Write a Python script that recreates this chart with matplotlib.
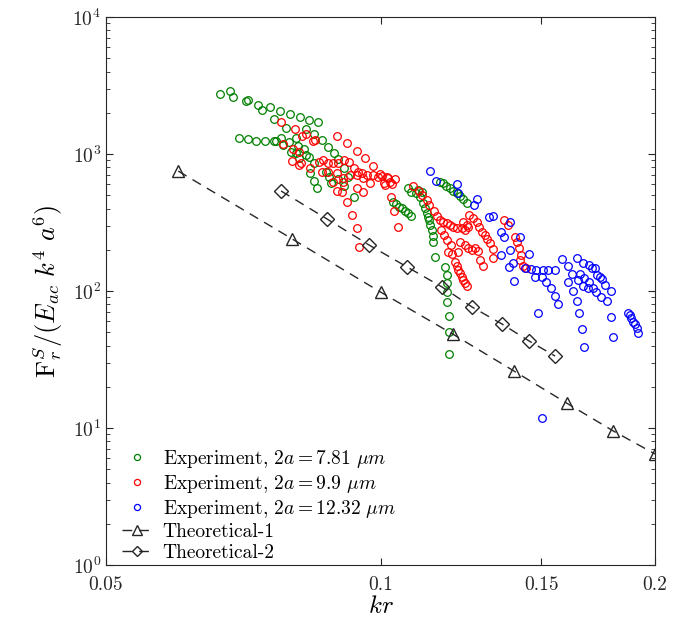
import numpy as np
import matplotlib
matplotlib.use('Agg')
import matplotlib.pyplot as plt
from matplotlib.ticker import LogLocator, NullLocator

plt.rcParams['font.family'] = 'serif'
plt.rcParams['font.serif'] = ['cmr10']
plt.rcParams['mathtext.fontset'] = 'cm'
plt.rcParams['axes.unicode_minus'] = False
plt.rcParams['axes.formatter.use_mathtext'] = True

# experiment, 2a = 7.81 um
kr_781 = [0.0667, 0.0684, 0.0689, 0.0712, 0.0716, 0.0734, 0.0741, 0.0757, 0.0776, 0.0796,
          0.0816, 0.0835, 0.0854, 0.0764, 0.0788, 0.0829, 0.0846, 0.0863, 0.0876, 0.0889,
          0.0898, 0.0912, 0.0921, 0.0935,
          0.0700, 0.0716, 0.0730, 0.0747, 0.0764, 0.0768, 0.0778, 0.0782, 0.0794, 0.0798,
          0.0808, 0.0812, 0.0808, 0.0814, 0.0825, 0.0829, 0.0835, 0.0846, 0.0837, 0.0846,
          0.0852, 0.0872, 0.0878, 0.0883, 0.0898, 0.0912,
          0.1032, 0.1040, 0.1048, 0.1056, 0.1064, 0.1072, 0.1080,
          0.1072, 0.1080, 0.1094, 0.1099, 0.1105, 0.1110, 0.1113, 0.1119, 0.1124, 0.1127,
          0.1130, 0.1133, 0.1139, 0.1142, 0.1142, 0.1147,
          0.1162, 0.1171, 0.1180, 0.1192, 0.1201, 0.1213, 0.1222, 0.1232, 0.1244,
          0.1177, 0.1183, 0.1183, 0.1183, 0.1183, 0.1189, 0.1189, 0.1189]
F_781 = [2740, 2880, 2610, 2440, 2480, 2280, 2100, 2200, 2060, 1960,
         1860, 1770, 1710, 1800, 1550, 1520, 1400, 1265, 1124, 1017,
         919, 790, 679, 485,
         1310, 1287, 1244, 1244, 1244, 1244, 1308, 1163, 1223, 1035,
         1308, 1143, 1017, 935, 1087, 983, 951, 859, 726, 635,
         564, 739, 679, 614, 656, 584,
         447, 432, 411, 404, 383, 371, 352,
         564, 528, 519, 546, 485, 528, 439, 404, 371, 347,
         330, 303, 279, 252, 228, 177,
         625, 614, 584, 564, 537, 519, 493, 469, 439,
         149, 131, 114, 98.6, 83.1, 65.7, 50.2, 34.7]

# experiment, 2a = 9.9 um
kr_99 = [0.0778, 0.0806, 0.0820, 0.0829, 0.0843, 0.0848, 0.0896, 0.0919, 0.0942, 0.0962,
         0.0981, 0.0999, 0.1019, 0.1038, 0.1009, 0.1025, 0.0974, 0.0957, 0.0945, 0.0935,
         0.0924, 0.0912, 0.0898, 0.0887, 0.0876, 0.0865, 0.0856, 0.0837, 0.0818, 0.0800,
         0.0863, 0.0876, 0.0896, 0.0910, 0.0926, 0.0942, 0.0954, 0.0966, 0.0981, 0.0994,
         0.0910, 0.0887, 0.0896, 0.0907, 0.0942, 0.0957, 0.0919, 0.0930, 0.0942, 0.0947,
         0.1027, 0.1035, 0.1045, 0.0802, 0.0814, 0.0814, 0.0782,
         0.1004, 0.1017, 0.1012, 0.1030, 0.1085, 0.1102, 0.1110, 0.1124, 0.1130, 0.1144,
         0.1153, 0.1162, 0.1171, 0.1183, 0.1192, 0.1201, 0.1213, 0.1228, 0.1238, 0.1247,
         0.1232, 0.1244, 0.1251, 0.1263, 0.1276, 0.1282, 0.1292, 0.1302, 0.1308, 0.1319,
         0.1329, 0.1329, 0.1165, 0.1174, 0.1183, 0.1195, 0.1186, 0.1198, 0.1222, 0.1238,
         0.1247, 0.1260, 0.1270, 0.1279, 0.1286, 0.1295, 0.1216, 0.1207, 0.1213, 0.1216,
         0.1222, 0.1228, 0.1232, 0.1238, 0.1244,
         0.1365, 0.1380, 0.1403, 0.1410, 0.1420, 0.1426, 0.1422, 0.1433, 0.1443]
F_99 = [1712, 1522, 1353, 1399, 1244, 1265, 1353, 1203, 1052, 935,
        817, 714, 668, 657, 614, 625, 614, 668, 739, 790,
        874, 904, 859, 859, 859, 904, 874, 790, 859, 889,
        739, 739, 726, 668, 702, 702, 726, 702, 702, 679,
        625, 625, 537, 528, 564, 528, 447, 358, 288, 210,
        485, 383, 293, 1087, 1035, 831, 1182,
        690, 679, 594, 604, 584, 537, 502, 462, 425, 383,
        352, 330, 319, 314, 303, 293, 288, 288, 279, 293,
        319, 303, 358, 341, 319, 293, 270, 256, 240, 224,
        203, 174, 279, 256, 236, 217, 192, 186, 228, 217,
        206, 199, 206, 196, 168, 152, 192, 162, 152, 142,
        135, 126, 120, 114, 108,
        330, 303, 248, 228, 206, 183, 168, 152, 147]

# experiment, 2a = 12.32 um
kr_1232 = [0.1133, 0.1150, 0.1213, 0.1216, 0.1276, 0.1266, 0.1316, 0.1329, 0.1387, 0.1357,
           0.1366, 0.1422, 0.1387, 0.1357, 0.1397, 0.1384, 0.1401, 0.1455, 0.1440, 0.1462,
           0.1481, 0.1507, 0.1527, 0.1555, 0.1477, 0.1503, 0.1519, 0.1538, 0.1555, 0.1566,
           0.1488, 0.1582, 0.1606, 0.1643, 0.1667, 0.1693, 0.1707, 0.1719, 0.1728, 0.1741,
           0.1750, 0.1763, 0.1790, 0.1622, 0.1655, 0.1648, 0.1671, 0.1667, 0.1688, 0.1693,
           0.1711, 0.1724, 0.1745, 0.1772, 0.1606, 0.1627, 0.1643, 0.1652, 0.1663, 0.1671,
           0.1790, 0.1799, 0.1869, 0.1878, 0.1883, 0.1892, 0.1902, 0.1912, 0.1917, 0.1503]
F_1232 = [751, 635, 604, 519, 469, 425, 347, 352, 319, 270,
          248, 248, 199, 183, 160, 149, 118, 186, 147, 145,
          142, 142, 142, 142, 126, 126, 116, 105, 92.2, 80.4,
          69.1, 171, 152, 174, 160, 154, 147, 147, 131, 126,
          122, 110, 100, 133, 133, 120, 124, 108, 105, 116,
          106, 98.6, 90.6, 84.6, 116, 100, 84.6, 69.1, 52.8, 39.0,
          64.6, 46.1, 69.1, 66.8, 63.5, 59.4, 57.4, 53.6, 49.3, 11.8]

# theory
kr_th1 = [0.06, 0.08, 0.10, 0.12, 0.14, 0.16, 0.18, 0.20]
F_th1 = [751, 240, 98.3, 48.5, 26.1, 15.2, 9.51, 6.46]
kr_th2 = [0.0778, 0.0874, 0.0971, 0.1069, 0.1168, 0.1260, 0.1359, 0.1455, 0.1554]
F_th2 = [537, 335, 217, 150, 107, 76.4, 57.4, 43.2, 33.5]

fig = plt.figure(figsize=(6.9, 6.3), dpi=100)
ax = fig.add_axes([0.1536, 0.1032, 0.7957, 0.8698])

ax.plot(kr_781, F_781, 'o', ls='none', mfc='none', mec='#008000', ms=5.5, mew=0.9,
        label=r'Experiment, $2a=7.81\ \mu m$')
ax.plot(kr_99, F_99, 'o', ls='none', mfc='none', mec='red', ms=5.5, mew=0.9,
        label=r'Experiment, $2a=9.9\ \mu m$')
ax.plot(kr_1232, F_1232, 'o', ls='none', mfc='none', mec='blue', ms=5.5, mew=0.9,
        label=r'Experiment, $2a=12.32\ \mu m$')
ax.plot(kr_th1, F_th1, color='#262626', ls=(0, (7, 5)), lw=1.0, marker='^', ms=9,
        mfc='none', mec='#262626', mew=1.0, label='Theoretical-1')
ax.plot(kr_th2, F_th2, color='#262626', ls=(0, (7, 5)), lw=1.0, marker='D', ms=7,
        mfc='none', mec='#262626', mew=1.0, label='Theoretical-2')

ax.set_xscale('log')
ax.set_yscale('log')
ax.set_xlim(0.05, 0.2)
ax.set_ylim(1, 1e4)
ax.set_xticks([0.05, 0.1, 0.15, 0.2])
ax.set_xticklabels(['0.05', '0.1', '0.15', '0.2'])
ax.xaxis.set_minor_locator(NullLocator())
ax.yaxis.set_major_locator(LogLocator(base=10, numticks=10))
ax.yaxis.set_minor_locator(LogLocator(base=10, subs=np.arange(2, 10), numticks=10))

for s in ax.spines.values():
    s.set_color('#262626')
    s.set_linewidth(0.8)
ax.tick_params(which='both', direction='in', top=True, right=True, colors='#262626',
               labelcolor='#262626', labelsize=14)
ax.tick_params(which='major', length=5)
ax.tick_params(which='minor', length=3)
ax.tick_params(axis='x', which='major', pad=8)

ax.set_xlabel(r'$kr$', fontsize=18, labelpad=1)
ax.set_ylabel(r'$\mathrm{F}_r^S/(E_{ac}\ k^4\ a^6)$', fontsize=19, labelpad=5)

ax.legend(loc='lower left', bbox_to_anchor=(-0.003, -0.026), frameon=False, fontsize=14,
          handlelength=1.6, handletextpad=0.5, labelspacing=0.15, markerscale=0.8)

fig.savefig('out.png', dpi=100)
